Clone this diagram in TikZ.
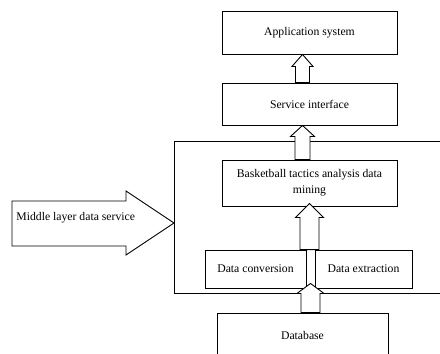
\documentclass[tikz,border=0pt]{standalone}
\usepackage{fontspec}
\setmainfont{Liberation Serif}
\usetikzlibrary{calc}

% hollow upward block arrow: #1 x centre, #2 tail anchor, #3 tip anchor,
% #4 shaft half width, #5 head half width, #6 head length
\newcommand\upblock[6]{%
  \draw[blockline] let \p1=(#2), \p2=(#3) in
    (#1pt-#4pt,\y1) -- (#1pt-#4pt,\y2-#6pt) -- (#1pt-#5pt,\y2-#6pt)
    -- (#1pt,\y2) -- (#1pt+#5pt,\y2-#6pt) -- (#1pt+#4pt,\y2-#6pt)
    -- (#1pt+#4pt,\y1) -- cycle;}

\begin{document}
\begin{tikzpicture}[x=1pt,y=-1pt, line width=0.9pt,
  box/.style={draw, inner sep=0pt, align=center,
    font=\fontsize{11.7}{16}\selectfont},
  blockline/.style={draw, fill=white, line join=miter},
  lbl/.style={inner sep=0pt, font=\fontsize{11.7}{16}\selectfont}]
\useasboundingbox (0,0) rectangle (440,354);
\clip (0,0) rectangle (440,354);

% middle layer frame (open to the right)
\draw (174,141) rectangle (470,293);

% layer boxes
\node[box, minimum width=175pt, minimum height=43pt] (app) at (309.5,32.5) {Application system};
\node[box, minimum width=175pt, minimum height=42pt] (svc) at (309.5,104) {Service interface};
\node[box, minimum width=175pt, minimum height=46pt] (bb) at (309.5,183)
  {Basketball tactics analysis data\\mining};
\node[box, minimum width=101pt, minimum height=38pt] (dc) at (255.5,269) {Data conversion};
\node[box, minimum width=97pt, minimum height=38pt] (de) at (363.5,269) {Data extraction};
\node[box, minimum width=171pt, minimum height=80pt] (db) at (302.5,353) {};
\node[lbl] (dbl) at (302.5,335) {Database};

% hollow arrows between layers
\upblock{302.5}{svc.north}{app.south}{7}{10.5}{12}
\upblock{302.5}{bb.north}{svc.south}{7.5}{12}{11}
\upblock{309.5}{dc.north}{[yshift=3pt]bb.south}{9.5}{14}{14}
\upblock{310.5}{db.north}{[yshift=5pt]dc.south}{9.5}{13.5}{10}

% side arrow naming the middle layer
\draw[blockline] (12,201) -- (126,201) -- (126,191) -- (174,223)
  -- (126,255) -- (126,246) -- (12,246) -- cycle;
\node[lbl, anchor=west] (mls) at (16,218) {Middle layer data service};
\end{tikzpicture}
\end{document}
